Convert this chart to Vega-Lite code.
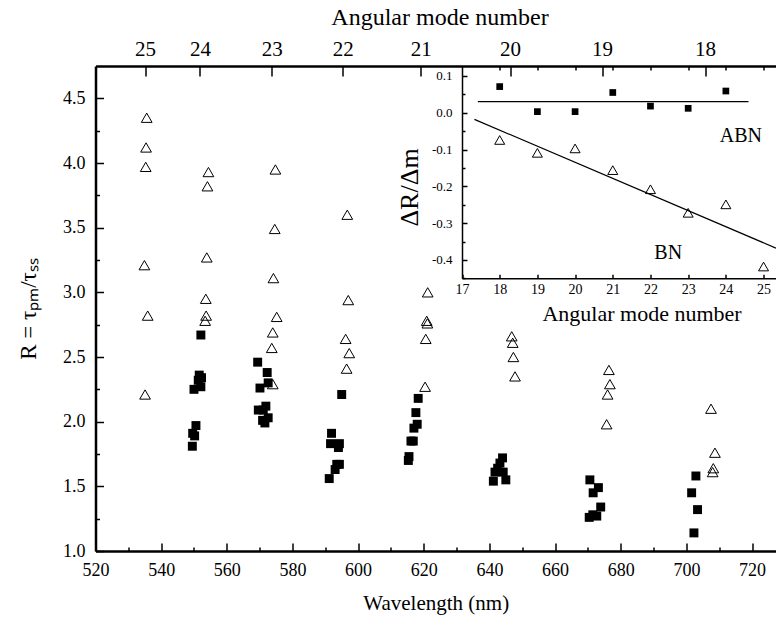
{
  "$schema": "https://vega.github.io/schema/vega-lite/v6.json",
  "width": 680.5,
  "height": 485,
  "autosize": {"type": "none"},
  "padding": {"left": 95.5, "top": 66, "right": 0, "bottom": 74},
  "background": "white",
  "config": {
    "view": {"stroke": null},
    "font": "Liberation Serif",
    "axis": {
      "grid": false,
      "domainColor": "black",
      "tickColor": "black",
      "labelColor": "black",
      "titleColor": "black",
      "labelFont": "Liberation Serif",
      "titleFont": "Liberation Serif",
      "titleFontWeight": "normal",
      "labelFlush": false,
      "labelOverlap": false,
      "labelBound": false,
      "tickWidth": 1.5
    }
  },
  "datasets": {
    "mainSq": [
      {"wl": 552.1, "R": 2.67}, {"wl": 551.6, "R": 2.36}, {"wl": 552.3, "R": 2.34}, {"wl": 551.3, "R": 2.32},
      {"wl": 552.1, "R": 2.27}, {"wl": 550.0, "R": 2.25}, {"wl": 550.6, "R": 1.97}, {"wl": 549.6, "R": 1.91},
      {"wl": 550.2, "R": 1.89}, {"wl": 549.5, "R": 1.81},
      {"wl": 569.4, "R": 2.46}, {"wl": 572.3, "R": 2.38}, {"wl": 572.6, "R": 2.30}, {"wl": 570.1, "R": 2.26},
      {"wl": 571.9, "R": 2.12}, {"wl": 571.1, "R": 2.09}, {"wl": 569.6, "R": 2.09}, {"wl": 572.6, "R": 2.03},
      {"wl": 570.9, "R": 2.01}, {"wl": 571.6, "R": 1.99},
      {"wl": 595.0, "R": 2.21}, {"wl": 591.9, "R": 1.91}, {"wl": 591.6, "R": 1.83}, {"wl": 594.3, "R": 1.83},
      {"wl": 594.0, "R": 1.80}, {"wl": 593.5, "R": 1.67}, {"wl": 594.3, "R": 1.67}, {"wl": 593.0, "R": 1.63},
      {"wl": 591.2, "R": 1.56},
      {"wl": 618.3, "R": 2.18}, {"wl": 617.6, "R": 2.07}, {"wl": 618.0, "R": 1.98}, {"wl": 617.0, "R": 1.95},
      {"wl": 616.8, "R": 1.85}, {"wl": 616.1, "R": 1.85}, {"wl": 615.5, "R": 1.73}, {"wl": 615.3, "R": 1.70},
      {"wl": 644.0, "R": 1.72}, {"wl": 643.2, "R": 1.68}, {"wl": 642.5, "R": 1.64}, {"wl": 641.7, "R": 1.61},
      {"wl": 644.2, "R": 1.61}, {"wl": 645.0, "R": 1.55}, {"wl": 641.2, "R": 1.54},
      {"wl": 670.6, "R": 1.55}, {"wl": 673.2, "R": 1.49}, {"wl": 671.6, "R": 1.45}, {"wl": 673.9, "R": 1.34},
      {"wl": 670.4, "R": 1.26}, {"wl": 672.7, "R": 1.27}, {"wl": 671.5, "R": 1.28},
      {"wl": 702.9, "R": 1.58}, {"wl": 701.6, "R": 1.45}, {"wl": 703.4, "R": 1.32}, {"wl": 702.3, "R": 1.14}
    ],
    "mainTri": [
      {"wl": 535.6, "R": 4.35}, {"wl": 535.4, "R": 4.12}, {"wl": 535.3, "R": 3.97}, {"wl": 534.9, "R": 3.21},
      {"wl": 535.9, "R": 2.82}, {"wl": 535.1, "R": 2.21},
      {"wl": 554.4, "R": 3.93}, {"wl": 554.1, "R": 3.82}, {"wl": 553.9, "R": 3.27}, {"wl": 553.6, "R": 2.95},
      {"wl": 553.7, "R": 2.82}, {"wl": 553.4, "R": 2.78},
      {"wl": 574.8, "R": 3.95}, {"wl": 574.6, "R": 3.49}, {"wl": 574.2, "R": 3.11}, {"wl": 575.2, "R": 2.81},
      {"wl": 574.0, "R": 2.69}, {"wl": 573.7, "R": 2.57}, {"wl": 574.0, "R": 2.29},
      {"wl": 596.7, "R": 3.60}, {"wl": 597.0, "R": 2.94}, {"wl": 596.2, "R": 2.64}, {"wl": 597.3, "R": 2.53},
      {"wl": 596.5, "R": 2.41},
      {"wl": 621.2, "R": 3.00}, {"wl": 620.9, "R": 2.78}, {"wl": 621.1, "R": 2.76}, {"wl": 620.6, "R": 2.64},
      {"wl": 620.4, "R": 2.27},
      {"wl": 646.8, "R": 2.66}, {"wl": 647.1, "R": 2.61}, {"wl": 647.3, "R": 2.50}, {"wl": 647.8, "R": 2.35},
      {"wl": 676.4, "R": 2.40}, {"wl": 676.7, "R": 2.29}, {"wl": 676.0, "R": 2.21}, {"wl": 675.7, "R": 1.98},
      {"wl": 707.5, "R": 2.10}, {"wl": 708.7, "R": 1.76}, {"wl": 708.2, "R": 1.64}, {"wl": 708.0, "R": 1.61}
    ],
    "insetSq": [
      {"m": 18, "v": 0.071}, {"m": 19, "v": 0.003}, {"m": 20, "v": 0.003}, {"m": 21, "v": 0.055},
      {"m": 22, "v": 0.018}, {"m": 23, "v": 0.012}, {"m": 24, "v": 0.059}
    ],
    "insetTri": [
      {"m": 18, "v": -0.074}, {"m": 19, "v": -0.109}, {"m": 20, "v": -0.097}, {"m": 21, "v": -0.156},
      {"m": 22, "v": -0.208}, {"m": 23, "v": -0.272}, {"m": 24, "v": -0.249}, {"m": 25, "v": -0.418}
    ],
    "fitABN": [{"m": 17.42, "v": 0.03}, {"m": 24.6, "v": 0.03}],
    "fitBN": [{"m": 17.33, "v": -0.018}, {"m": 25.33, "v": -0.368}],
    "labels": [{"m": 24.4, "v": -0.063, "t": "ABN"}, {"m": 22.47, "v": -0.38, "t": "BN"}]
  },
  "layer": [
    {
      "data": {"name": "mainSq"},
      "mark": {"type": "square", "filled": true, "color": "black", "size": 80, "opacity": 1},
      "encoding": {
        "x": {
          "field": "wl", "type": "quantitative",
          "scale": {"domain": [520, 727.3], "nice": false, "zero": false},
          "axis": {
            "orient": "bottom",
            "values": [520, 530, 540, 550, 560, 570, 580, 590, 600, 610, 620, 630, 640, 650, 660, 670, 680, 690, 700, 710, 720],
            "labelExpr": "datum.value % 20 === 0 ? datum.label : ''",
            "tickSize": {"condition": {"test": "datum.value % 20 === 0", "value": -8}, "value": -4},
            "labelPadding": 18,
            "labelFont": "Liberation Serif",
            "labelFontSize": 18,
            "domainWidth": 2.5,
            "title": "Wavelength (nm)",
            "titleFont": "Liberation Serif",
            "titleFontSize": 21,
            "titleBaseline": "middle",
            "titleY": 52
          }
        },
        "y": {
          "field": "R", "type": "quantitative",
          "scale": {"domain": [1, 4.75], "nice": false, "zero": false},
          "axis": {
            "orient": "left",
            "values": [1, 1.25, 1.5, 1.75, 2, 2.25, 2.5, 2.75, 3, 3.25, 3.5, 3.75, 4, 4.25, 4.5],
            "labelExpr": "round(datum.value*4) % 2 === 0 ? format(datum.value, '.1f') : ''",
            "tickSize": {"condition": {"test": "round(datum.value*4) % 2 === 0", "value": -8}, "value": -4},
            "labelPadding": 18.5,
            "labelFont": "Liberation Serif",
            "labelFontSize": 18,
            "domainWidth": 2.5,
            "title": "R = τₚₘ/τₛₛ",
            "titleFont": "Liberation Serif",
            "titleFontSize": 23,
            "titleBaseline": "middle",
            "titleX": -67
          }
        }
      }
    },
    {
      "data": {"name": "mainTri"},
      "mark": {"type": "point", "shape": "triangle-up", "filled": false, "stroke": "black", "strokeWidth": 1, "size": 115, "opacity": 1},
      "encoding": {
        "x": {
          "field": "wl", "type": "quantitative",
          "scale": {"domain": [520, 727.3], "nice": false, "zero": false},
          "axis": {
            "orient": "top",
            "values": [535.1, 551.8, 573.7, 595.3, 619.1, 646.3, 674.3, 705.7],
            "labelExpr": "datum.value < 540 ? '25' : datum.value < 560 ? '24' : datum.value < 585 ? '23' : datum.value < 605 ? '22' : datum.value < 630 ? '21' : datum.value < 660 ? '20' : datum.value < 690 ? '19' : '18'",
            "tickSize": -10,
            "labelPadding": 17,
            "labelFont": "Liberation Serif",
            "labelFontSize": 21,
            "domainWidth": 2.5,
            "title": "Angular mode number",
            "titleFont": "Liberation Serif",
            "titleFontSize": 24,
            "titleBaseline": "middle",
            "titleX": 344,
            "titleY": -49
          }
        },
        "y": {
          "field": "R", "type": "quantitative",
          "scale": {"domain": [1, 4.75], "nice": false, "zero": false},
          "axis": null
        }
      }
    },
    {
      "data": {"name": "insetSq"},
      "mark": {"type": "square", "filled": true, "color": "black", "size": 45, "opacity": 1},
      "encoding": {
        "x": {
          "field": "m", "type": "quantitative",
          "scale": {"domain": [17, 25.33], "range": [366.5, 680.5], "nice": false, "zero": false},
          "axis": {
            "orient": "bottom",
            "offset": -272.7,
            "values": [17, 18, 19, 20, 21, 22, 23, 24, 25],
            "tickSize": -4,
            "labelPadding": 8,
            "labelFont": "Liberation Serif",
            "labelFontSize": 14,
            "domainWidth": 1.5,
            "title": "Angular mode number",
            "titleFont": "Liberation Serif",
            "titleFontSize": 22,
            "titleBaseline": "middle",
            "titleX": 546,
            "titleY": 35
          }
        },
        "y": {
          "field": "v", "type": "quantitative",
          "scale": {"domain": [-0.45, 0.127], "range": [212.3, 0], "nice": false, "zero": false},
          "axis": {
            "orient": "left",
            "offset": -366.5,
            "values": [-0.45, -0.4, -0.35, -0.3, -0.25, -0.2, -0.15, -0.1, -0.05, 0, 0.05, 0.1],
            "labelExpr": "abs(round(datum.value*20)) % 2 === 0 ? replace(format(datum.value, '.1f'), '−', '-') : ''",
            "tickSize": {"condition": {"test": "abs(round(datum.value*20)) % 2 === 0", "value": -5}, "value": -3},
            "labelPadding": 15,
            "labelFont": "Liberation Serif",
            "labelFontSize": 13,
            "domainWidth": 1.5,
            "title": "ΔR/Δm",
            "titleFont": "Liberation Serif",
            "titleFontSize": 26,
            "titleBaseline": "middle",
            "titleX": -53,
            "titleY": 121
          }
        }
      }
    },
    {
      "data": {"name": "insetTri"},
      "mark": {"type": "point", "shape": "triangle-up", "filled": false, "stroke": "black", "strokeWidth": 1, "size": 100, "opacity": 1},
      "encoding": {
        "x": {
          "field": "m", "type": "quantitative",
          "scale": {"domain": [17, 25.33], "range": [366.5, 680.5], "nice": false, "zero": false},
          "axis": {
            "orient": "top",
            "values": [18, 19, 20, 21, 22, 23, 24, 25],
            "tickSize": -4,
            "labels": false,
            "domain": false,
            "title": null
          }
        },
        "y": {
          "field": "v", "type": "quantitative",
          "scale": {"domain": [-0.45, 0.127], "range": [212.3, 0], "nice": false, "zero": false},
          "axis": null
        }
      }
    },
    {
      "data": {"name": "fitABN"},
      "mark": {"type": "line", "color": "black", "strokeWidth": 1.2},
      "encoding": {
        "x": {"field": "m", "type": "quantitative", "scale": {"domain": [17, 25.33], "range": [366.5, 680.5], "nice": false, "zero": false}, "axis": null},
        "y": {"field": "v", "type": "quantitative", "scale": {"domain": [-0.45, 0.127], "range": [212.3, 0], "nice": false, "zero": false}, "axis": null}
      }
    },
    {
      "data": {"name": "fitBN"},
      "mark": {"type": "line", "color": "black", "strokeWidth": 1.2},
      "encoding": {
        "x": {"field": "m", "type": "quantitative", "scale": {"domain": [17, 25.33], "range": [366.5, 680.5], "nice": false, "zero": false}, "axis": null},
        "y": {"field": "v", "type": "quantitative", "scale": {"domain": [-0.45, 0.127], "range": [212.3, 0], "nice": false, "zero": false}, "axis": null}
      }
    },
    {
      "data": {"name": "labels"},
      "mark": {"type": "text", "font": "Liberation Serif", "fontSize": 20, "color": "black", "align": "center", "baseline": "middle"},
      "encoding": {
        "x": {"field": "m", "type": "quantitative", "scale": {"domain": [17, 25.33], "range": [366.5, 680.5], "nice": false, "zero": false}, "axis": null},
        "y": {"field": "v", "type": "quantitative", "scale": {"domain": [-0.45, 0.127], "range": [212.3, 0], "nice": false, "zero": false}, "axis": null},
        "text": {"field": "t"}
      }
    }
  ],
  "resolve": {
    "scale": {"x": "independent", "y": "independent"},
    "axis": {"x": "independent", "y": "independent"}
  }
}
